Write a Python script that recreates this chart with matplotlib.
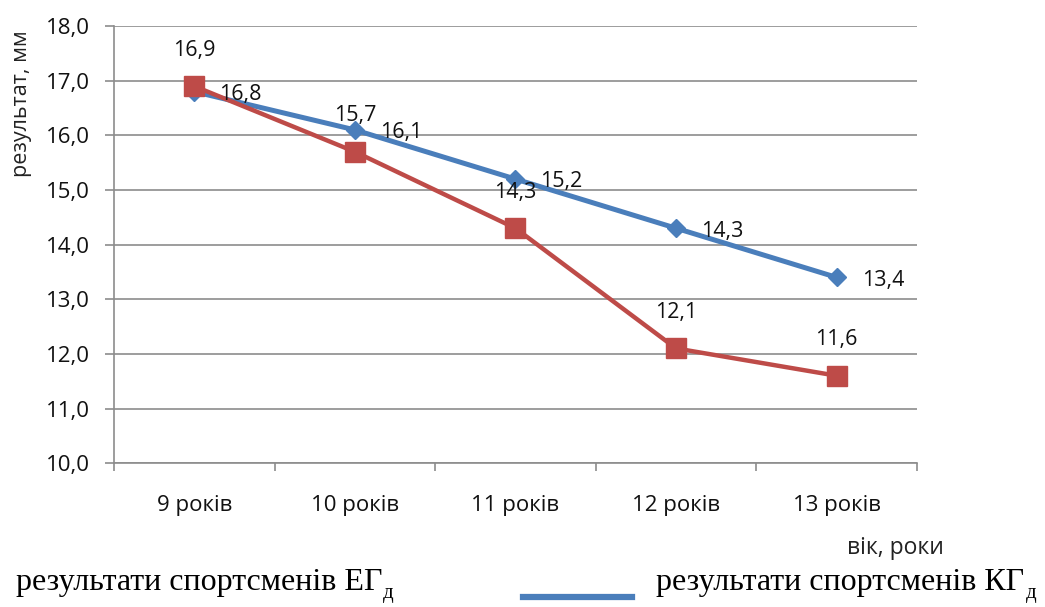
import numpy as np
import matplotlib.pyplot as plt
from matplotlib.lines import Line2D
from matplotlib.ticker import FixedLocator, FuncFormatter

ages = ["9 років", "10 років", "11 років", "12 років", "13 років"]
kg_vals = [16.8, 16.1, 15.2, 14.3, 13.4]   # КГд, blue
eg_vals = [16.9, 15.7, 14.3, 12.1, 11.6]   # ЕГд, red

blue = "#4A7EBB"
red = "#BE4B48"
grid_c = "#8C8C8C"
sans = ["Open Sans", "DejaVu Sans"]
serif = ["Liberation Serif", "DejaVu Serif"]

fig = plt.figure(figsize=(10.45, 6.07), dpi=100)
ax = fig.add_axes([0.109, 0.237, 0.7685, 0.72])

x = np.arange(len(ages))
ax.plot(x, kg_vals, color=blue, lw=3.6, marker="D", ms=9, zorder=3)
ax.plot(x, eg_vals, color=red, lw=3.2, marker="s", ms=14, zorder=4)

for xi, v in zip(x, kg_vals):
    ax.annotate(f"{v:.1f}".replace(".", ","), (xi, v), xytext=(18, -2),
                textcoords="offset points", ha="left", va="center",
                fontsize=15.5, family=sans, color="#111111", zorder=5)
for xi, v in zip(x, eg_vals):
    ax.annotate(f"{v:.1f}".replace(".", ","), (xi, v), xytext=(0, 26),
                textcoords="offset points", ha="center", va="center",
                fontsize=15.5, family=sans, color="#111111", zorder=5)

ax.set_xlim(-0.5, len(ages) - 0.5)
ax.set_ylim(10, 18)
ax.set_yticks(np.arange(10, 18.1, 1))
ax.yaxis.set_major_formatter(FuncFormatter(lambda v, p: f"{v:.1f}".replace(".", ",")))
ax.yaxis.grid(True, color=grid_c, lw=1.2)
ax.set_axisbelow(True)

ax.set_xticks(x)
ax.set_xticklabels(ages)
ax.xaxis.set_minor_locator(FixedLocator(np.arange(-0.5, len(ages), 1)))
ax.tick_params(axis="x", which="major", length=0, pad=23)
ax.tick_params(axis="x", which="minor", length=6, color=grid_c, width=1.2)
ax.tick_params(axis="y", length=6.5, color=grid_c, width=1.2, pad=11)
for lab in ax.get_xticklabels():
    lab.set_family(sans)
    lab.set_fontsize(16)
    lab.set_color("#111111")
for lab in ax.get_yticklabels():
    lab.set_family(sans)
    lab.set_fontsize(16)
    lab.set_color("#111111")

for s in ["top", "right"]:
    ax.spines[s].set_visible(False)
for s in ["left", "bottom"]:
    ax.spines[s].set_color(grid_c)
    ax.spines[s].set_linewidth(1.2)

fig.text(0.021, 0.83, "результат, мм", rotation=90, ha="center", va="center",
         fontsize=15.5, family=sans, color="#222222")
fig.text(0.903, 0.097, "вік, роки", ha="right", va="center",
         fontsize=16.5, family=sans, color="#222222")

# legend row under the chart
renderer = fig.canvas.get_renderer()
def legend_label(xpos, main, sub):
    t = fig.text(xpos, 0.04, main, ha="left", va="center", fontsize=23,
                 family=serif, color="black")
    bb = t.get_window_extent(renderer)
    fig.text(bb.x1 / fig.bbox.width + 0.001, 0.022, sub, ha="left", va="center",
             fontsize=15, family=serif, color="black")

legend_label(0.015, "результати спортсменів ЕГ", "д")
fig.add_artist(Line2D([0.5, 0.605], [0.016, 0.016], color=blue, lw=4.5,
                      transform=fig.transFigure))
legend_label(0.628, "результати спортсменів КГ", "д")

plt.savefig("out.png", dpi=100)
